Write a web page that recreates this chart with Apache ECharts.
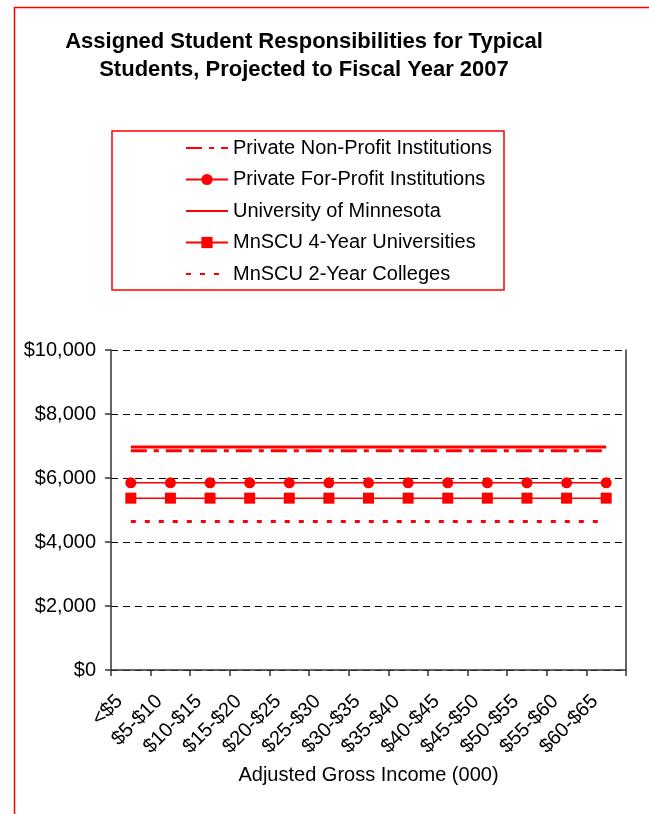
<!DOCTYPE html>
<html>
<head>
<meta charset="utf-8">
<script src="https://cdn.jsdelivr.net/npm/echarts@6/dist/echarts.min.js"></script>
<style>
html,body{margin:0;padding:0;background:#fff;}
#chart{width:649px;height:814px;}
</style>
</head>
<body>
<div id="chart"></div>
<script>
const categories = ['<$5','$5-$10','$10-$15','$15-$20','$20-$25','$25-$30','$30-$35','$35-$40','$40-$45','$45-$50','$50-$55','$55-$60','$60-$65'];
const privateNonProfit = [6850,6850,6850,6850,6850,6850,6850,6850,6850,6850,6850,6850,6850];
const privateForProfit = [5850,5850,5850,5850,5850,5850,5850,5850,5850,5850,5850,5850,5850];
const universityOfMinnesota = [6970,6970,6970,6970,6970,6970,6970,6970,6970,6970,6970,6970,6970];
const mnscu4Year = [5370,5370,5370,5370,5370,5370,5370,5370,5370,5370,5370,5370,5370];
const mnscu2Year = [4640,4640,4640,4640,4640,4640,4640,4640,4640,4640,4640,4640,4640];
const yTicks = [0,2000,4000,6000,8000,10000];

const FONT = "'Liberation Sans', Arial, sans-serif";
const RED = '#ff0000';
const noSymbol = {itemStyle: {opacity: 0}};
const chart = echarts.init(document.getElementById('chart'), null, {renderer:'canvas'});
chart.setOption({
  backgroundColor: '#ffffff',
  animation: false,
  graphic: [{
    type: 'rect', left: 12, top: 5, silent: true,
    shape: {x: 0, y: 0, width: 636, height: 840},
    style: {fill: 'none', stroke: RED, lineWidth: 1.5}
  }],
  title: {
    text: 'Assigned Student Responsibilities for Typical\nStudents, Projected to Fiscal Year 2007',
    left: 299, top: 23, textAlign: 'center',
    textStyle: {fontFamily: FONT, fontSize: 22, fontWeight: 'bold', color: '#000', lineHeight: 28}
  },
  legend: {
    orient: 'vertical', left: 112, top: 131,
    padding: [7, 12, 6, 73],
    itemGap: 11.5, itemWidth: 42, itemHeight: 14,
    borderColor: RED, borderWidth: 1.5,
    textStyle: {fontFamily: FONT, fontSize: 20, color: '#000'},
    data: [
      Object.assign({name: 'Private Non-Profit Institutions'}, noSymbol),
      {name: 'Private For-Profit Institutions'},
      Object.assign({name: 'University of Minnesota'}, noSymbol),
      {name: 'MnSCU 4-Year Universities'},
      Object.assign({name: 'MnSCU 2-Year Colleges'}, noSymbol)
    ]
  },
  grid: {left: 111, right: 23, top: 350, bottom: 144, containLabel: false},
  xAxis: {
    type: 'category', data: categories, boundaryGap: true,
    name: 'Adjusted Gross Income (000)', nameLocation: 'middle', nameGap: 95,
    nameTextStyle: {fontFamily: FONT, fontSize: 20, color: '#000'},
    axisLine: {show: true, lineStyle: {color: '#333', width: 1.5}},
    axisTick: {show: true, interval: 0, length: 6, lineStyle: {color: '#333', width: 1.5}},
    axisLabel: {interval: 0, rotate: 45, margin: 17, padding: [0, 16, 0, 0], fontFamily: FONT, fontSize: 20, color: '#000'},
    splitLine: {show: false}
  },
  yAxis: [{
    type: 'value', min: yTicks[0], max: yTicks[yTicks.length-1], interval: 2000,
    axisLine: {show: true, lineStyle: {color: '#333', width: 1.5}},
    axisTick: {show: true, length: 6, lineStyle: {color: '#333', width: 1.5}},
    axisLabel: {margin: 15, fontFamily: FONT, fontSize: 20, color: '#000',
      formatter: v => '$' + v.toLocaleString('en-US')},
    splitLine: {show: true, lineStyle: {color: '#000', type: [7,5], width: 1}}
  },{
    type: 'value', position: 'right', min: 0, max: 10000, interval: 2000,
    axisLine: {show: true, lineStyle: {color: '#333', width: 1.5}},
    axisTick: {show: false}, axisLabel: {show: false}, splitLine: {show: false}
  }],
  series: [
    {name: 'Private Non-Profit Institutions', type: 'line', data: privateNonProfit, symbol: 'none',
     color: RED, lineStyle: {color: RED, width: 3, type: [16,7,5,7]}},
    {name: 'Private For-Profit Institutions', type: 'line', data: privateForProfit, symbol: 'circle', symbolSize: 11,
     color: RED, itemStyle: {color: RED}, lineStyle: {color: RED, width: 1.5}},
    {name: 'University of Minnesota', type: 'line', data: universityOfMinnesota, symbol: 'none',
     color: RED, lineStyle: {color: RED, width: 3}},
    {name: 'MnSCU 4-Year Universities', type: 'line', data: mnscu4Year, symbol: 'rect', symbolSize: 11,
     color: RED, itemStyle: {color: RED}, lineStyle: {color: RED, width: 1.5}},
    {name: 'MnSCU 2-Year Colleges', type: 'line', data: mnscu2Year, symbol: 'none',
     color: RED, lineStyle: {color: RED, width: 3, type: [5,9]}}
  ]
});
</script>
</body>
</html>
